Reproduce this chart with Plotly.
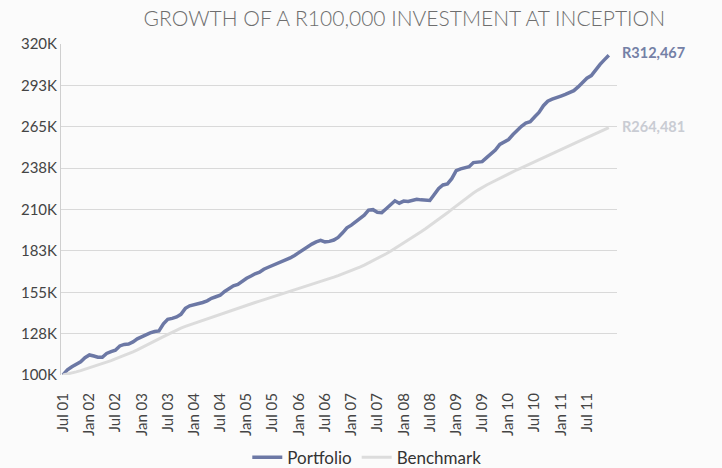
import plotly.graph_objects as go
import pandas as pd

dates = pd.date_range("2001-07-01", periods=126, freq="MS")

portfolio = [
    100, 103.5, 105.5, 107, 108.8, 111.5, 113.3, 112.6, 111.8, 111.8,
    114.3, 115.5, 116.5, 119.3, 120.3, 120.6, 122, 124, 125.5, 126.8,
    128, 128.9, 129.3, 134, 137, 137.6, 138.6, 140.3, 144.3, 146,
    146.7, 147, 148.2, 149.3, 151, 152, 153, 155.5, 157.8, 159.3,
    160.2, 162.3, 164.3, 165.8, 167.3, 168.3, 170.3, 171.6, 172.8, 173.7,
    175, 176.2, 177.8, 179.5, 181.5, 183.2, 185.5, 187, 188.5, 189.5,
    188.5, 188.8, 189.7, 191.4, 194.5, 197.8, 199.6, 201.8, 204.3, 206.2,
    209.6, 209.9, 208.2, 207.9, 210.5, 213, 215.8, 214.2, 215.6, 215.3,
    216, 216.8, 216.4, 216.1, 216, 220, 224, 226.3, 227, 230.5,
    235.8, 237, 237.4, 238.4, 241.2, 241.5, 241.8, 244.5, 247.3, 249.5,
    253.3, 255, 256.5, 259.8, 262.8, 265.3, 267.5, 268.3, 271.5, 274.5,
    279, 282, 283.3, 284.6, 285.4, 286.5, 287.8, 289, 291.5, 294.8,
    297.3, 299, 303.2, 306.5, 309.6, 312.467,
]

benchmark = [
    100, 100.6, 101.3, 102.1, 102.9, 103.8, 104.7, 105.6, 106.6, 107.6,
    108.6, 109.6, 110.7, 111.8, 112.9, 114.1, 115.4, 116.7, 118.1, 119.5,
    121, 122.5, 124, 125.5, 127, 128.5, 129.9, 131.2, 132.3, 133.3,
    134.3, 135.3, 136.3, 137.3, 138.3, 139.4, 140.5, 141.6, 142.7, 143.7,
    144.6, 145.5, 146.4, 147.3, 148.2, 149.1, 150, 150.9, 151.8, 152.7,
    153.6, 154.5, 155.4, 156.3, 157.2, 158.1, 159, 160, 161, 162,
    163, 164, 165, 166, 167.1, 168.2, 169.3, 170.5, 171.7, 173,
    174.4, 175.9, 177.4, 179, 180.6, 182.3, 184.1, 185.9, 187.7, 189.5,
    191.4, 193.3, 195.2, 197.2, 199.2, 201.3, 203.4, 205.6, 207.8, 210.1,
    212.4, 214.7, 216.9, 219, 221, 222.9, 224.7, 226.3, 227.8, 229.3,
    230.8, 232.2, 233.6, 235, 236.4, 237.7, 239, 240.3, 241.6, 242.9,
    244.2, 245.5, 246.8, 248.1, 249.4, 250.7, 252.1, 253.5, 254.9, 256.3,
    257.7, 259.1, 260.5, 261.9, 263.2, 264.481,
]

x_tickvals = pd.date_range("2001-07-01", "2011-07-01", freq="6MS")
x_ticktext = ["Jul 01", "Jan 02", "Jul 02", "Jan 03", "Jul 03", "Jan 04", "Jul 04",
              "Jan 05", "Jul 05", "Jan 06", "Jul 06", "Jan 07", "Jul 07", "Jan 08",
              "Jul 08", "Jan 09", "Jul 09", "Jan 10", "Jul 10", "Jan 11", "Jul 11"]

y_tickvals = [100, 127.5, 155, 182.5, 210, 237.5, 265, 292.5, 320]
y_ticktext = ["100K", "128K", "155K", "183K", "210K", "238K", "265K", "293K", "320K"]

end_labels = ["R312,467", "R264,481"]

PORT_COLOR = "#6c78a5"
BENCH_COLOR = "#dcdcdc"
FONT = "Lato"

fig = go.Figure()
fig.add_trace(go.Scatter(x=dates, y=portfolio, mode="lines", name="Portfolio",
                         line=dict(color=PORT_COLOR, width=3.5)))
fig.add_trace(go.Scatter(x=dates, y=benchmark, mode="lines", name="Benchmark",
                         line=dict(color=BENCH_COLOR, width=3)))

fig.add_annotation(x=dates[-1], y=portfolio[-1], text=end_labels[0], showarrow=False,
                   xanchor="left", yanchor="middle", xshift=11, yshift=3,
                   font=dict(family=FONT, size=14.5, color="#7480a6", weight="bold"))
fig.add_annotation(x=dates[-1], y=benchmark[-1], text=end_labels[1], showarrow=False,
                   xanchor="left", yanchor="middle", xshift=11, yshift=1,
                   font=dict(family=FONT, size=14.5, color="#c9ccd3", weight="bold"))

fig.update_layout(
    width=722, height=468,
    margin=dict(l=61, r=105, t=44, b=93, autoexpand=False),
    paper_bgcolor="#fbfbfb", plot_bgcolor="#fbfbfb",
    title=dict(text="GROWTH OF A R100,000 INVESTMENT AT INCEPTION",
               x=0.56, xanchor="center", xref="container",
               y=1 - 19 / 468, yanchor="middle", yref="container",
               font=dict(family=FONT, size=21, color="#6e6e6e", weight=300)),
    showlegend=True,
    legend=dict(orientation="h", x=0.55, xanchor="center", y=-0.25, yanchor="middle",
                font=dict(family=FONT, size=17, color="#333333"),
                bgcolor="rgba(0,0,0,0)", itemwidth=30),
    font=dict(family=FONT, color="#444444"),
)

fig.update_xaxes(
    type="date", automargin=False,
    range=["2001-06-17", "2012-01-27"],
    tickvals=x_tickvals, ticktext=x_ticktext,
    tickangle=-90,
    showgrid=False, zeroline=False,
    showline=False,
    ticks="outside", ticklen=11, tickcolor="rgba(0,0,0,0)",
    tickfont=dict(family=FONT, size=15, color="#444444"),
)
fig.update_yaxes(
    range=[100, 320], automargin=False,
    tickvals=y_tickvals, ticktext=y_ticktext,
    showgrid=True, gridcolor="#d9d9d9", gridwidth=1,
    zeroline=False,
    showline=True, linecolor="#cfcfcf", linewidth=1,
    ticks="",
    tickfont=dict(family=FONT, size=15, color="#444444"),
)

fig.write_html("out.html",
               config={"displayModeBar": False},
               post_script="document.body.style.margin='0';document.body.style.background='#fbfbfb';")
